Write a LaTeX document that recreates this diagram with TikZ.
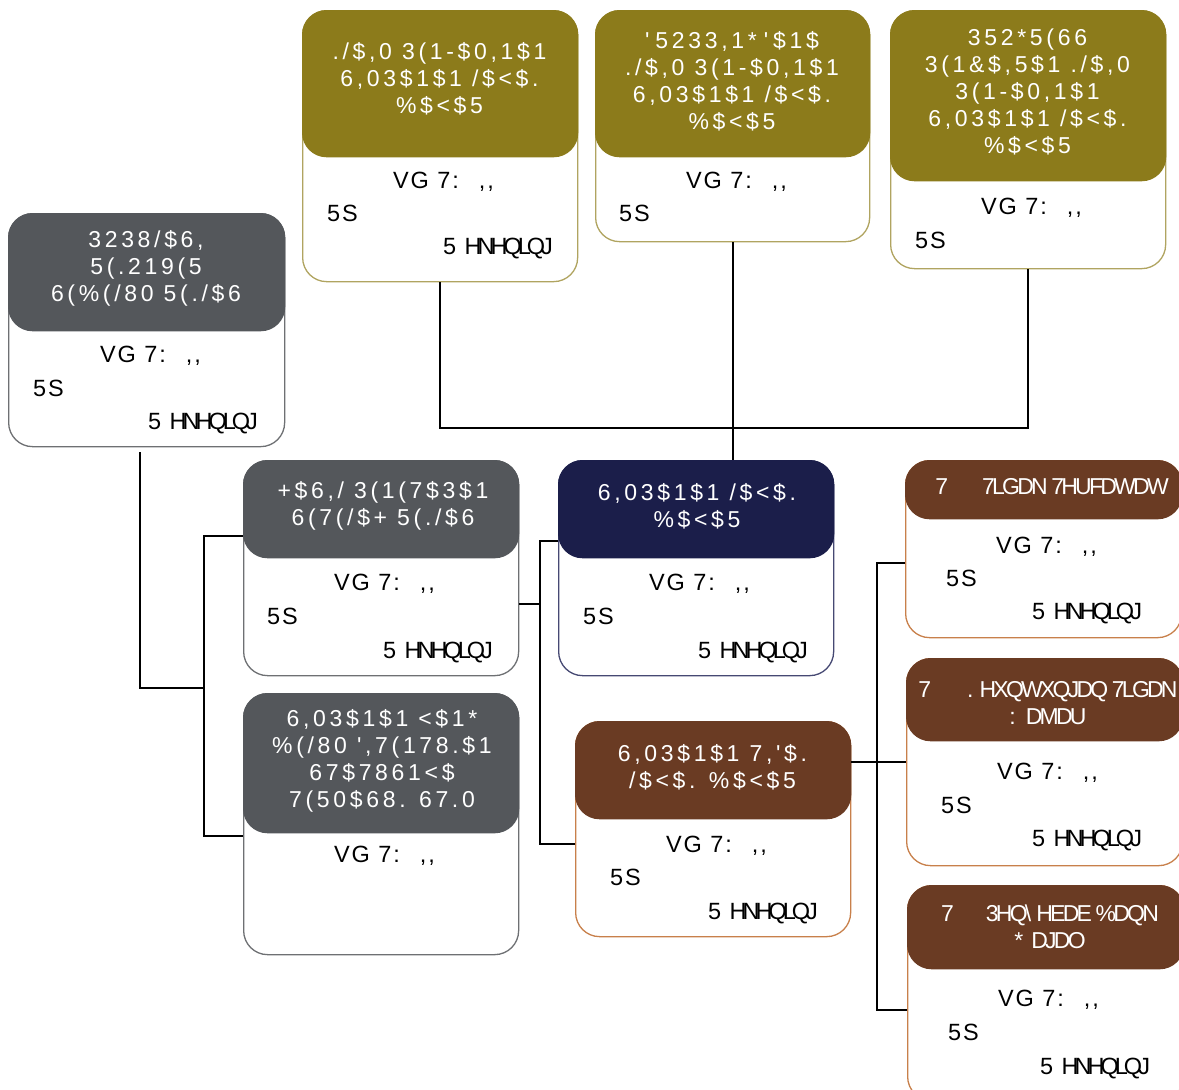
\documentclass[tikz,border=0pt]{standalone}
\usepackage{fontspec}
\setmainfont{Liberation Sans}
\newfontfamily\hfont[LetterSpace=16]{Liberation Sans}
\newfontfamily\bfont[LetterSpace=8]{Liberation Sans}
\newfontfamily\tfont[LetterSpace=-17]{Liberation Sans}
\newfontfamily\rfont[LetterSpace=-12]{Liberation Sans}
\definecolor{olv}{RGB}{140,123,27}
\definecolor{olvB}{RGB}{176,164,96}
\definecolor{gry}{RGB}{84,87,91}
\definecolor{gryB}{RGB}{110,112,115}
\definecolor{nvy}{RGB}{27,30,74}
\definecolor{nvyB}{RGB}{70,73,115}
\definecolor{brn}{RGB}{106,59,35}
\definecolor{brnB}{RGB}{200,128,75}
\tikzset{
  card/.style={draw=#1, line width=1.3pt, fill=white, rounded corners=24pt, inner sep=0},
  hdr/.style={draw=#1, fill=#1, line width=1.3pt, rounded corners=24pt, inner sep=0},
  htext/.style={text=white, font={\hfont\fontsize{23}{27}\selectfont}, align=center, inner sep=0},
  btext/.style={text=black, font={\bfont\fontsize{23.5}{27}\selectfont}, inner sep=0, anchor=base west},
  link/.style={line width=2pt, black},
}
\newcommand\mkcard[7]{%
  \node[card=#7B, minimum width=#4pt, minimum height=#5pt, anchor=north west] (#1) at (#2,#3) {};
  \node[hdr=#7, minimum width=#4pt, minimum height=#6pt, anchor=north west] (#1h) at (#2,#3) {};
}
\begin{document}
\begin{tikzpicture}[x=1pt,y=-1pt]
\useasboundingbox (0,0) rectangle (1179,1090);
\clip (0,0) rectangle (1179,1090);

% junction coordinates
\coordinate (jbar) at (732,428);
\coordinate (lj) at (204,688);
\coordinate (mj) at (540,604);
\coordinate (rj) at (877,762);

% cards
\mkcard{b1}{8}{213}{276}{233}{117}{gry}
\mkcard{b2}{302}{10}{275}{271}{146}{olv}
\mkcard{b3}{595}{10}{274}{231}{146}{olv}
\mkcard{b4}{890}{10}{275}{258}{170}{olv}
\mkcard{b5}{243}{460}{275}{215}{97}{gry}
\mkcard{b6}{243}{693}{275}{261}{139}{gry}
\mkcard{b7}{558}{460}{275}{215}{97}{nvy}
\mkcard{b8}{575}{721}{275}{215}{97}{brn}
\mkcard{b9}{905}{460}{276}{177}{58}{brn}
\mkcard{b10}{906}{658}{276}{207}{82}{brn}
\mkcard{b11}{907}{885}{276}{215}{83}{brn}

% header texts
\node[htext] (t1) at (146,268) {3238/\$6,\\5(.219(5\\6(\%(/80 5(./\$6};
\node[htext] (t2) at (439.5,79) {./\$,0 3(1-\$0,1\$1\\6,03\$1\$1 /\$<\$.\\\%\$<\$5};
\node[htext] (t3) at (732,81) {'\kern6pt 5233,1*\kern7pt '\kern5pt\$1\$\\./\$,0 3(1-\$0,1\$1\\6,03\$1\$1 /\$<\$.\\\%\$<\$5};
\node[htext] (t4) at (1027.5,92) {352*5(66\\3(1\&\$,5\$1 ./\$,0\\3(1-\$0,1\$1\\6,03\$1\$1 /\$<\$.\\\%\$<\$5};
\node[htext] (t5) at (383,506) {+\$6,/ 3(1(7\$3\$1\\6(7(/\$+ 5(./\$6};
\node[htext] (t6) at (382,761) {6,03\$1\$1 <\$1*\\\%(/80 ',7(178.\$1\\67\$7861<\$\\7(50\$68. 67.0};
\node[htext] (t7) at (697,506) {6,03\$1\$1 /\$<\$.\\\%\$<\$5};
\node[htext] (t8) at (712.5,767) {6,03\$1\$1 7,'\$.\\/\$<\$. \%\$<\$5};
\node[htext] (t9) at (1052,487) {7\hspace{34pt}{\rfont 7LGDN 7HUFDWDW}};
\node[htext] (t10) at (1048,703) {7\hspace{36pt}.\hspace{6pt}{\rfont HXQWXQJDQ 7LGDN}\\:\hspace{10pt}{\rfont DMDU}};
\node[htext] (t11) at (1050,927) {7\hspace{32pt}{\rfont 3HQ\textbackslash\kern5pt HEDE \%DQN}\\*\hspace{8pt}{\rfont DJDO}};

% body texts
\node[btext] (v1) at (100,362) {VG 7:\hspace{20pt},,};
\node[btext] (r1) at (33,396) {5S};
\node[btext] (k1) at (148,429) {5 {\tfont HNHQLQJ}};

\node[btext] (v2) at (393,188) {VG 7:\hspace{20pt},,};
\node[btext] (r2) at (327,221) {5S};
\node[btext] (k2) at (443,254) {5 {\tfont HNHQLQJ}};

\node[btext] (v3) at (686,188) {VG 7:\hspace{20pt},,};
\node[btext] (r3) at (619,221) {5S};

\node[btext] (v4) at (981,214) {VG 7:\hspace{20pt},,};
\node[btext] (r4) at (915,248) {5S};

\node[btext] (v5) at (334,590) {VG 7:\hspace{20pt},,};
\node[btext] (r5) at (267,624) {5S};
\node[btext] (k5) at (383,658) {5 {\tfont HNHQLQJ}};

\node[btext] (v6) at (334,862) {VG 7:\hspace{20pt},,};

\node[btext] (v7) at (649,590) {VG 7:\hspace{20pt},,};
\node[btext] (r7) at (583,624) {5S};
\node[btext] (k7) at (698,658) {5 {\tfont HNHQLQJ}};

\node[btext] (v8) at (666,852) {VG 7:\hspace{20pt},,};
\node[btext] (r8) at (610,885) {5S};
\node[btext] (k8) at (708,919) {5 {\tfont HNHQLQJ}};

\node[btext] (v9) at (996,553) {VG 7:\hspace{20pt},,};
\node[btext] (r9) at (946,586) {5S};
\node[btext] (k9) at (1032,619) {5 {\tfont HNHQLQJ}};

\node[btext] (v10) at (997,779) {VG 7:\hspace{20pt},,};
\node[btext] (r10) at (941,813) {5S};
\node[btext] (k10) at (1032,846) {5 {\tfont HNHQLQJ}};

\node[btext] (v11) at (998,1006) {VG 7:\hspace{20pt},,};
\node[btext] (r11) at (948,1040) {5S};
\node[btext] (k11) at (1040,1074) {5 {\tfont HNHQLQJ}};

% connectors: top group
\draw[link] (b2.south) -- (b2.south |- jbar) -- (b4.south |- jbar) -- (b4.south);
\draw[link] (b3.south) -- (b3.south |- b7.north);

% left group
\draw[link] ([xshift=-7pt,yshift=-5pt]b1.south) |- (lj);
\draw[link] ([yshift=-76pt]b5.north west) -| (lj);
\draw[link] ([yshift=-143pt]b6.north west) -| (lj);

% middle group
\draw[link] ([yshift=-144pt]b5.north east) -- (mj);
\draw[link] ([yshift=-81pt]b7.north west) -| (mj);
\draw[link] ([yshift=-123pt]b8.north west) -| (mj);

% right group
\draw[link] ([yshift=-41pt]b8.north east) -- ([yshift=-104pt]b10.north west);
\draw[link] ([yshift=-103pt]b9.north west) -| (rj);
\draw[link] ([yshift=-125pt]b11.north west) -| (rj);
\end{tikzpicture}
\end{document}
